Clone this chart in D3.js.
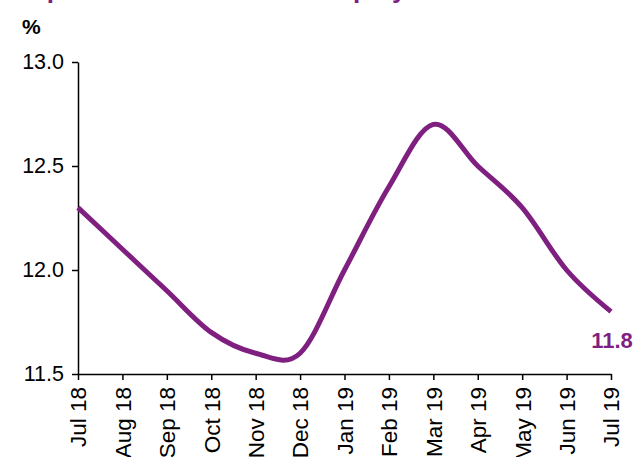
<!DOCTYPE html>
<html>
<head>
<meta charset="utf-8">
<script src="https://cdn.jsdelivr.net/npm/d3@7"></script>
<style>
  body { margin: 0; background: #fff; }
  svg { display: block; font-family: "Liberation Sans", Arial, sans-serif; }
</style>
</head>
<body>
<div class="chart"></div>
<script>
// Chart data
var months = ["Jul 18", "Aug 18", "Sep 18", "Oct 18", "Nov 18", "Dec 18", "Jan 19",
              "Feb 19", "Mar 19", "Apr 19", "May 19", "Jun 19", "Jul 19"];
var rates = [12.3, 12.1, 11.9, 11.7, 11.6, 11.6, 12.0, 12.4, 12.7, 12.5, 12.3, 12.0, 11.8];
var yTicks = [11.5, 12.0, 12.5, 13.0];
var titleText = "Upturn in the rate of unemployment";

var svgWidth = 636;
var svgHeight = 457;
var margin = {top: 62, right: 25, bottom: 83, left: 78};
var width = svgWidth - margin.left - margin.right;
var height = svgHeight - margin.top - margin.bottom;
var purple = "#7f1f80";

var svg = d3.select(".chart")
  .append("svg")
  .attr("width", svgWidth)
  .attr("height", svgHeight);

// title, mostly cut off at the top edge (as in the original)
svg.append("text")
  .attr("x", 28)
  .attr("y", -2)
  .attr("fill", purple)
  .attr("font-weight", "bold")
  .attr("font-size", "26px")
  .text(titleText);

svg.append("text")
  .attr("x", 22)
  .attr("y", 34)
  .attr("font-weight", "bold")
  .attr("font-size", "21px")
  .text("%");

var chartGroup = svg.append("g")
  .attr("transform", "translate(" + margin.left + "," + margin.top + ")");

var xScale = d3.scalePoint()
  .domain(months)
  .range([0, width]);

var yScale = d3.scaleLinear()
  .domain([11.5, 13.0])
  .range([height, 0]);

// x axis
var xAxis = chartGroup.append("g")
  .attr("transform", "translate(0," + height + ")")
  .call(d3.axisBottom(xScale).tickSizeInner(6).tickSizeOuter(0));
xAxis.selectAll("text")
  .attr("font-size", "22.5px")
  .attr("font-family", "Liberation Sans, Arial, sans-serif")
  .attr("fill", "#000")
  .attr("transform", "rotate(-90)")
  .attr("text-anchor", "end")
  .attr("x", -13)
  .attr("y", 0)
  .attr("dy", "0.35em");

// y axis
var yAxis = chartGroup.append("g")
  .call(d3.axisLeft(yScale).tickValues(yTicks).tickFormat(d3.format(".1f"))
    .tickSizeInner(6).tickSizeOuter(0));
yAxis.selectAll("text")
  .attr("font-size", "21.5px")
  .attr("font-family", "Liberation Sans, Arial, sans-serif")
  .attr("fill", "#000")
  .attr("x", -14);

chartGroup.selectAll(".domain, .tick line")
  .attr("stroke", "#000")
  .attr("stroke-width", 1.5);

// line
var line = d3.line()
  .x(function(d, i) { return xScale(months[i]); })
  .y(function(d) { return yScale(d); })
  .curve(d3.curveCardinal.tension(0));

chartGroup.append("path")
  .datum(rates)
  .attr("fill", "none")
  .attr("stroke", purple)
  .attr("stroke-width", 5)
  .attr("d", line);

// last value label
var last = rates.length - 1;
chartGroup.append("text")
  .attr("x", xScale(months[last]) + 1)
  .attr("y", yScale(rates[last]) + 36)
  .attr("text-anchor", "middle")
  .attr("fill", purple)
  .attr("font-weight", "bold")
  .attr("font-size", "22px")
  .text(rates[last].toFixed(1));
</script>
</body>
</html>
